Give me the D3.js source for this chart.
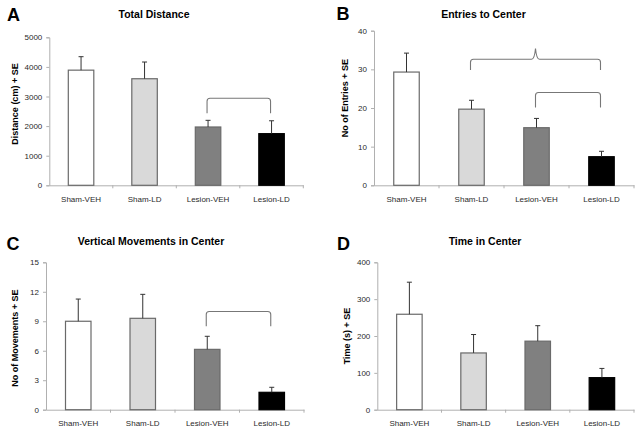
<!DOCTYPE html>
<html><head><meta charset="utf-8">
<script src="https://cdn.jsdelivr.net/npm/d3@7"></script>
<style>body{margin:0;background:#fff}svg{display:block}text{font-family:"Liberation Sans",Arial,sans-serif}</style>
</head><body><svg id="c" width="641" height="431"></svg>
<script>
const categories = ["Sham-VEH","Sham-LD","Lesion-VEH","Lesion-LD"];
const fills = ["#ffffff","#d9d9d9","#808080","#000000"];

const distMean = [3890, 3600, 1970, 1745];
const distSE   = [455, 565, 225, 435];
const distTicks = [0,1000,2000,3000,4000,5000];

const entriesMean = [29.3, 19.7, 14.9, 7.4];
const entriesSE   = [4.9, 2.3, 2.4, 1.4];
const entriesTicks = [0,10,20,30,40];

const vertMean = [9.0, 9.3, 6.14, 1.77];
const vertSE   = [2.26, 2.44, 1.33, 0.51];
const vertTicks = [0,3,6,9,12,15];

const timeMean = [259, 154, 186, 87];
const timeSE   = [87, 50, 42, 25];
const timeTicks = [0,100,200,300,400];

// brackets: [fromIdx, toIdx, barY, legY, peakY(or null)]
const distBrackets = [[2,3,2940,2430,null]];
const entriesBrackets = [[1,3,32.6,29.8,35.4],[2,3,24.0,20.1,null]];
const vertBrackets = [[2,3,10.0,8.5,null]];
const timeBrackets = [];

const panels = [
  {letter:"A", title:"Total Distance", ylabel:"Distance (cm) + SE", mean:distMean, se:distSE, ticks:distTicks, br:distBrackets,
   x0:49.3, x1:303.3, yT:37.3, yB:185.3, lx:7, ly:21, tx:154, ty:17.5, yl:15, ylc:104},
  {letter:"B", title:"Entries to Center", ylabel:"No of Entries + SE", mean:entriesMean, se:entriesSE, ticks:entriesTicks, br:entriesBrackets,
   x0:374, x1:634, yT:30.7, yB:185.3, lx:336.5, ly:19.5, tx:483.5, ty:17.5, yl:345, ylc:98},
  {letter:"C", title:"Vertical Movements in Center", ylabel:"No of Movements + SE", mean:vertMean, se:vertSE, ticks:vertTicks, br:vertBrackets,
   x0:46, x1:304, yT:262.3, yB:409.7, lx:6.5, ly:249.5, tx:151, ty:245, yl:15, ylc:338},
  {letter:"D", title:"Time in Center", ylabel:"Time (s) + SE", mean:timeMean, se:timeSE, ticks:timeTicks, br:timeBrackets,
   x0:377.3, x1:634, yT:262.3, yB:409.7, lx:337, ly:249.5, tx:485, ty:245, yl:346.5, ylc:336}
];

const svg = d3.select("#c");
panels.forEach(p => {
  const g = svg.append("g");
  const xb = d3.scaleBand().domain(categories).range([p.x0, p.x1]);
  const y = d3.scaleLinear().domain([0, d3.max(p.ticks)]).range([p.yB, p.yT]);

  // y axis
  const ya = g.append("g").attr("transform",`translate(${p.x0},0)`)
    .call(d3.axisLeft(y).tickValues(p.ticks).tickSize(3).tickPadding(4).tickFormat(d3.format("d")));
  ya.select(".domain").attr("stroke","#b0b0b0");
  ya.selectAll(".tick line").attr("stroke","#b0b0b0");
  ya.selectAll(".tick text").attr("fill","#2a2a2a").style("font-size","8px");

  // x axis
  const xa = g.append("g").attr("transform",`translate(0,${p.yB})`)
    .call(d3.axisBottom(xb).tickSize(0).tickPadding(11));
  xa.select(".domain").attr("stroke","#b0b0b0");
  xa.selectAll(".tick text").attr("fill","#2a2a2a").style("font-size","8px");
  // boundary ticks
  g.selectAll(".bt").data(categories).enter().append("line")
    .attr("x1", d => xb(d)+xb.bandwidth()).attr("x2", d => xb(d)+xb.bandwidth())
    .attr("y1", p.yB).attr("y2", p.yB+3).attr("stroke","#b0b0b0");

  // bars
  const bw = 25.5;
  g.selectAll(".bar").data(categories).enter().append("rect")
    .attr("x", d => xb(d)+xb.bandwidth()/2-bw/2)
    .attr("y", (d,i) => y(p.mean[i]))
    .attr("width", bw)
    .attr("height", (d,i) => y(0)-y(p.mean[i]))
    .attr("fill", (d,i) => fills[i])
    .attr("stroke", (d,i) => i===3 ? "#000" : "#6a6a6a")
    .attr("stroke-width", 1.2);

  // error bars
  categories.forEach((d,i) => {
    const cx = xb(d)+xb.bandwidth()/2;
    g.append("line").attr("x1",cx).attr("x2",cx).attr("y1",y(p.mean[i])).attr("y2",y(p.mean[i]+p.se[i]))
      .attr("stroke","#333").attr("stroke-width",1);
    g.append("line").attr("x1",cx-2.5).attr("x2",cx+2.5).attr("y1",y(p.mean[i]+p.se[i])).attr("y2",y(p.mean[i]+p.se[i]))
      .attr("stroke","#333").attr("stroke-width",1);
  });

  // brackets
  p.br.forEach(b => {
    const xa_ = xb(categories[b[0]])+xb.bandwidth()/2 - 1;
    const xz = xb(categories[b[1]])+xb.bandwidth()/2 - 1;
    const yb = y(b[2]), yl = y(b[3]);
    const r = 3;
    let path = `M${xa_},${yl} L${xa_},${yb+r} Q${xa_},${yb} ${xa_+r},${yb}`;
    if (b[4] !== null) {
      const xm = (xa_+xz)/2, yp = y(b[4]);
      path += ` L${xm-4},${yb} Q${xm-1},${yb} ${xm},${yp} Q${xm+1},${yb} ${xm+4},${yb}`;
    }
    path += ` L${xz-r},${yb} Q${xz},${yb} ${xz},${yb+r} L${xz},${yl}`;
    g.append("path").attr("d",path).attr("fill","none").attr("stroke","#777").attr("stroke-width",1.1);
  });

  // labels
  g.append("text").attr("x",p.lx).attr("y",p.ly).text(p.letter)
    .style("font-size","18px").style("font-weight","bold").attr("fill","#000");
  g.append("text").attr("x",p.tx).attr("y",p.ty).attr("text-anchor","middle").text(p.title)
    .style("font-size","10.5px").style("font-weight","bold").attr("fill","#000");
  g.append("text").attr("transform",`translate(${p.yl+3},${p.ylc}) rotate(-90)`).attr("text-anchor","middle").text(p.ylabel)
    .style("font-size","9px").style("font-weight","bold").attr("fill","#000");
});
</script></body></html>
